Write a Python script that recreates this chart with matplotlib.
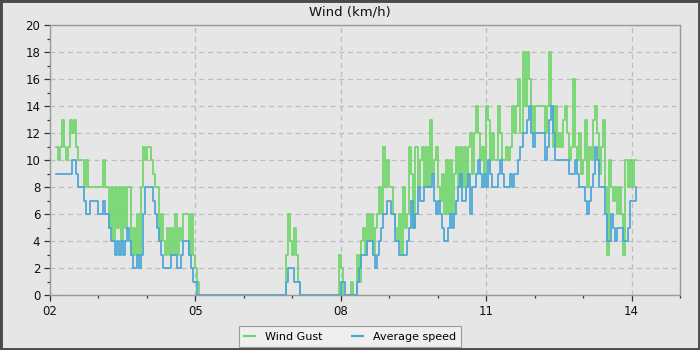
import matplotlib
matplotlib.use("Agg")
import matplotlib.pyplot as plt
import matplotlib.dates as mdates
from matplotlib.patches import Rectangle
from matplotlib.lines import Line2D
import pandas as pd

# hourly readings starting 02 03:00
start_time = "2024-03-02 03:00"

wind_gust = [
    11, 10, 11, 13, 11, 10, 11, 13, 12, 13, 11, 10, 10, 10, 8, 10, 8, 8, 8, 8, 8, 8, 8, 10,
    8, 8, 5, 8, 4, 8, 5, 8, 4, 8, 5, 8, 8, 3, 5, 3, 6, 3, 8, 11, 10, 11, 11, 10,
    9, 8, 8, 4, 6, 4, 3, 5, 3, 5, 3, 6, 3, 5, 4, 6, 6, 6, 3, 6, 3, 2, 1, 0,
    0, 0, 0, 0, 0, 0, 0, 0, 0, 0, 0, 0, 0, 0, 0, 0, 0, 0, 0, 0, 0, 0, 0, 0,
    0, 0, 0, 0, 0, 0, 0, 0, 0, 0, 0, 0, 0, 0, 0, 0, 0, 0, 3, 6, 4, 3, 5, 3,
    1, 0, 0, 0, 0, 0, 0, 0, 0, 0, 0, 0, 0, 0, 0, 0, 0, 0, 0, 0, 3, 2, 0, 0,
    0, 0, 1, 0, 0, 3, 1, 4, 5, 3, 6, 4, 6, 3, 5, 6, 8, 6, 11, 8, 10, 8, 8, 6,
    5, 4, 6, 3, 8, 5, 6, 11, 9, 5, 11, 8, 10, 11, 8, 11, 8, 13, 9, 10, 11, 8, 7, 9,
    6, 10, 6, 10, 6, 9, 11, 8, 11, 8, 11, 8, 11, 12, 9, 12, 14, 12, 10, 11, 9, 14, 13, 10,
    12, 10, 10, 14, 12, 10, 10, 11, 10, 11, 14, 12, 14, 16, 12, 18, 14, 18, 16, 14, 12, 14, 14, 14,
    14, 14, 12, 14, 18, 14, 11, 14, 11, 12, 11, 13, 14, 12, 10, 11, 16, 11, 10, 12, 9, 10, 13, 8,
    11, 10, 13, 14, 12, 9, 11, 13, 8, 3, 10, 8, 7, 8, 6, 8, 6, 3, 10, 8, 10, 8, 10, 10,
]

average_speed = [
    9, 9, 9, 9, 9, 9, 9, 9, 10, 10, 9, 8, 8, 8, 7, 6, 6, 7, 7, 7, 7, 6, 6, 7,
    6, 6, 5, 4, 4, 3, 4, 3, 4, 3, 4, 5, 4, 3, 2, 2, 3, 2, 3, 6, 8, 8, 8, 8,
    7, 6, 5, 4, 3, 2, 2, 2, 2, 3, 3, 3, 2, 2, 3, 4, 4, 4, 3, 2, 1, 1, 0, 0,
    0, 0, 0, 0, 0, 0, 0, 0, 0, 0, 0, 0, 0, 0, 0, 0, 0, 0, 0, 0, 0, 0, 0, 0,
    0, 0, 0, 0, 0, 0, 0, 0, 0, 0, 0, 0, 0, 0, 0, 0, 0, 0, 1, 2, 2, 2, 1, 1,
    1, 0, 0, 0, 0, 0, 0, 0, 0, 0, 0, 0, 0, 0, 0, 0, 0, 0, 0, 0, 0, 1, 1, 0,
    0, 0, 0, 0, 0, 1, 2, 3, 3, 3, 4, 4, 4, 3, 2, 3, 4, 5, 6, 6, 7, 7, 6, 6,
    4, 4, 3, 3, 3, 3, 4, 5, 7, 5, 6, 8, 7, 7, 8, 8, 8, 8, 9, 7, 6, 7, 6, 5,
    4, 4, 5, 6, 5, 6, 7, 8, 9, 7, 7, 8, 9, 6, 8, 8, 9, 10, 9, 8, 9, 8, 10, 9,
    8, 8, 8, 9, 10, 9, 8, 8, 8, 9, 8, 9, 9, 10, 11, 12, 12, 13, 14, 12, 11, 12, 12, 12,
    12, 12, 10, 11, 13, 14, 12, 10, 10, 10, 10, 10, 10, 10, 9, 9, 9, 10, 9, 8, 8, 8, 7, 6,
    7, 8, 9, 11, 10, 8, 8, 8, 6, 4, 4, 6, 5, 4, 5, 5, 5, 4, 4, 5, 7, 7, 7, 8,
]

y_ticks = [0, 2, 4, 6, 8, 10, 12, 14, 16, 18, 20]
x_tick_days = [2, 5, 8, 11, 14]

gust_color = "#6fd66a"
avg_color = "#4ba6d9"
bg = "#e6e6e6"

times = pd.date_range(start_time, periods=len(wind_gust), freq="h")

fig = plt.figure(figsize=(7, 3.5), dpi=100, facecolor=bg)
ax = fig.add_axes([50 / 700, 55 / 350, 630 / 700, 270 / 350])
ax.set_facecolor(bg)

ax.step(times, wind_gust, where="post", color=gust_color, lw=1.25, zorder=3)
ax.step(times, average_speed, where="post", color=avg_color, lw=1.25, zorder=4)

ax.set_xlim(pd.Timestamp("2024-03-02"), pd.Timestamp("2024-03-15"))
ax.set_ylim(0, 20)
ax.set_yticks(y_ticks)
ax.set_yticks(range(0, 21), minor=True)
ax.xaxis.set_major_locator(mdates.DayLocator(bymonthday=x_tick_days))
ax.xaxis.set_minor_locator(mdates.DayLocator())
ax.xaxis.set_major_formatter(mdates.DateFormatter("%d"))

ax.grid(True, which="major", color="#bdbdbd", linestyle=(0, (4, 3)), lw=0.9)
for s in ax.spines.values():
    s.set_color("#999999")
    s.set_linewidth(1.0)
ax.tick_params(which="major", length=4, width=0.9, color="#333333",
               labelsize=8.5, labelcolor="#111111", pad=3)
ax.tick_params(which="minor", length=2.5, width=0.9, color="#333333")

fig.text(0.5, 1 - 12 / 350, "Wind (km/h)", ha="center", va="center",
         fontsize=9.5, color="#111111")

handles = [Line2D([], [], color=gust_color, lw=1.6),
           Line2D([], [], color=avg_color, lw=1.6)]
leg = fig.legend(handles, ["Wind Gust", "Average speed"], loc="lower center",
                 bbox_to_anchor=(0.5, -0.008), ncol=2, fontsize=8,
                 frameon=True, fancybox=False, handlelength=1.0,
                 columnspacing=2.6, borderpad=0.5, handletextpad=0.9)
leg.get_frame().set_facecolor("#f2f2f2")
leg.get_frame().set_edgecolor("#888888")
leg.get_frame().set_linewidth(0.8)

fig.patches.append(Rectangle((0, 0), 1, 1, transform=fig.transFigure,
                             fill=False, edgecolor="#4a4a4a", lw=3.5, zorder=10))

fig.savefig("out.png", dpi=100, facecolor=bg)
